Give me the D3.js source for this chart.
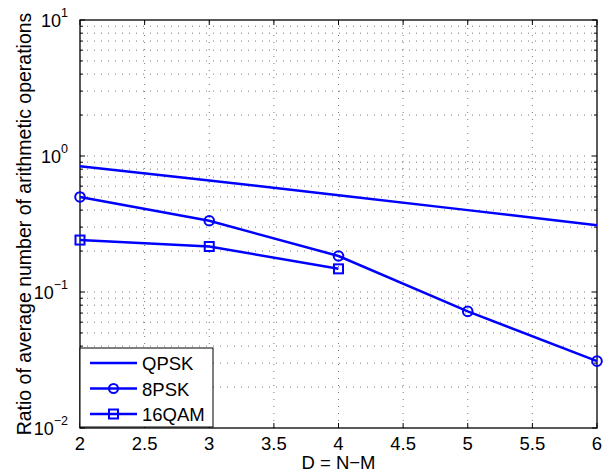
<!DOCTYPE html>
<html lang="en">
  <head>
    <meta charset="utf-8" />
    <script src="https://cdn.jsdelivr.net/npm/d3@7/dist/d3.min.js"></script>
    <style>
      body { margin: 0; background: #fff; }
      text { font-family: "Liberation Sans", Arial, sans-serif; fill: #000; }
      .grid line { stroke: #555; stroke-width: 0.8; stroke-dasharray: 1, 6; }
    </style>
  </head>
  <body>
    <div id="container"></div>
    <script>
      const width = 608;
      const height = 473;
      const margin = { top: 20, right: 11, bottom: 45, left: 80 };

      // data
      const dValues = [2, 3, 4, 5, 6];
      const qpsk = [0.84, 0.66, 0.515, 0.40, 0.31];
      const psk8 = [0.50, 0.334, 0.184, 0.072, 0.031];
      const qam16 = [0.241, 0.216, 0.148];
      const xTicks = [2, 2.5, 3, 3.5, 4, 4.5, 5, 5.5, 6];
      const yExps = [-2, -1, 0, 1];

      const svg = d3.select("#container").append("svg").attr("width", width).attr("height", height);

      const x = d3.scaleLinear().domain([2, 6]).range([margin.left, width - margin.right]);
      const y = d3.scaleLog().domain([1e-2, 10]).range([height - margin.bottom, margin.top]);
      const x0 = x.range()[0], x1 = x.range()[1], y0 = y.range()[0], y1 = y.range()[1];

      // minor log values
      const yMinor = [];
      for (let e = -2; e < 1; e++) for (let k = 2; k <= 9; k++) yMinor.push(k * Math.pow(10, e));
      const yMajor = yExps.map((e) => Math.pow(10, e));

      // grid
      const grid = svg.append("g").attr("class", "grid");
      grid.selectAll("line.gx").data(xTicks.slice(1, -1)).enter().append("line")
        .attr("x1", (d) => x(d)).attr("x2", (d) => x(d)).attr("y1", y0).attr("y2", y1);
      grid.selectAll("line.gy").data(yMinor.concat(yMajor.slice(1, -1))).enter().append("line")
        .attr("x1", x0).attr("x2", x1).attr("y1", (d) => y(d)).attr("y2", (d) => y(d));

      // ticks (inward, all four sides)
      const ticks = svg.append("g").attr("stroke", "#000").attr("stroke-width", 1);
      xTicks.forEach((d) => {
        ticks.append("line").attr("x1", x(d)).attr("x2", x(d)).attr("y1", y0).attr("y2", y0 - 5);
        ticks.append("line").attr("x1", x(d)).attr("x2", x(d)).attr("y1", y1).attr("y2", y1 + 5);
      });
      yMajor.forEach((d) => {
        ticks.append("line").attr("x1", x0).attr("x2", x0 + 5).attr("y1", y(d)).attr("y2", y(d));
        ticks.append("line").attr("x1", x1).attr("x2", x1 - 5).attr("y1", y(d)).attr("y2", y(d));
      });
      yMinor.forEach((d) => {
        ticks.append("line").attr("x1", x0).attr("x2", x0 + 3).attr("y1", y(d)).attr("y2", y(d));
        ticks.append("line").attr("x1", x1).attr("x2", x1 - 3).attr("y1", y(d)).attr("y2", y(d));
      });

      // box
      svg.append("rect").attr("x", x0).attr("y", y1).attr("width", x1 - x0).attr("height", y0 - y1)
        .attr("fill", "none").attr("stroke", "#000").attr("stroke-width", 1.3);

      // tick labels
      svg.append("g").selectAll("text").data(xTicks).enter().append("text")
        .attr("x", (d) => x(d)).attr("y", y0 + 22).attr("text-anchor", "middle")
        .attr("font-size", 18.5).text((d) => d);
      const yl = svg.append("g").selectAll("text").data(yExps).enter().append("text")
        .attr("x", x0 - 12).attr("y", (d) => y(Math.pow(10, d)) + 7).attr("text-anchor", "end")
        .attr("font-size", 18);
      yl.append("tspan").text("10");
      yl.append("tspan").attr("dy", -10.5).attr("font-size", 12.5).text((d) => (d < 0 ? "\u2212" + -d : d));

      // axis labels
      svg.append("text").attr("x", (x0 + x1) / 2).attr("y", 469).attr("text-anchor", "middle")
        .attr("font-size", 18.5).text("D = N\u2212M");
      svg.append("text").attr("transform", `translate(31,${(y0 + y1) / 2}) rotate(-90)`)
        .attr("text-anchor", "middle").attr("font-size", 19.5)
        .text("Ratio of average number of arithmetic operations");

      // series
      const line = d3.line().x((d, i) => x(dValues[i])).y((d) => y(d));
      const blue = "#0000ff";
      [qpsk, psk8, qam16].forEach((s) => {
        svg.append("path").datum(s).attr("d", line).attr("fill", "none").attr("stroke", blue).attr("stroke-width", 2.5);
      });
      svg.append("g").selectAll("circle").data(psk8).enter().append("circle")
        .attr("cx", (d, i) => x(dValues[i])).attr("cy", (d) => y(d)).attr("r", 4.8)
        .attr("fill", "none").attr("stroke", blue).attr("stroke-width", 2);
      svg.append("g").selectAll("rect").data(qam16).enter().append("rect")
        .attr("x", (d, i) => x(dValues[i]) - 4.5).attr("y", (d) => y(d) - 4.5).attr("width", 9).attr("height", 9)
        .attr("fill", "none").attr("stroke", blue).attr("stroke-width", 2);

      // legend
      const lg = svg.append("g").attr("transform", "translate(80,348)");
      lg.append("rect").attr("width", 133).attr("height", 79).attr("fill", "#fff").attr("stroke", "#000").attr("stroke-width", 1);
      const names = ["QPSK", "8PSK", "16QAM"];
      names.forEach((n, i) => {
        const ly = 15 + i * 25.5;
        lg.append("line").attr("x1", 10).attr("x2", 57).attr("y1", ly).attr("y2", ly).attr("stroke", blue).attr("stroke-width", 2.5);
        if (i === 1) lg.append("circle").attr("cx", 33.5).attr("cy", ly).attr("r", 4.5).attr("fill", "none").attr("stroke", blue).attr("stroke-width", 2);
        if (i === 2) lg.append("rect").attr("x", 29).attr("y", ly - 4.5).attr("width", 9).attr("height", 9).attr("fill", "none").attr("stroke", blue).attr("stroke-width", 2);
        lg.append("text").attr("x", 62).attr("y", ly + 7).attr("font-size", 18.5).text(n);
      });
    </script>
  </body>
</html>
